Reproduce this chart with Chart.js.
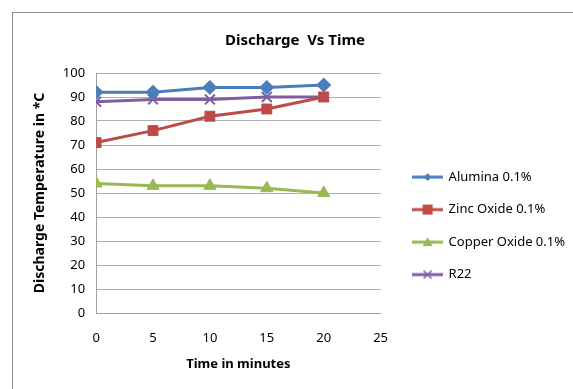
<!DOCTYPE html>
<html>
<head>
<meta charset="utf-8">
<script src="https://cdn.jsdelivr.net/npm/chart.js@4"></script>
<style>
  html, body { margin: 0; padding: 0; background: #fff; overflow: hidden; }
  #wrap { position: relative; width: 573px; height: 389px; }
  #frame { position: absolute; left: 12px; top: 12px; width: 620px; height: 420px;
           border: 1px solid #8c8c8c; pointer-events: none; }
</style>
</head>
<body>
<div id="wrap">
  <canvas id="chart" width="573" height="389"></canvas>
  <div id="frame"></div>
</div>
<script>
const times = [0, 5, 10, 15, 20];
const alumina = [92, 92, 94, 94, 95];
const zincOxide = [71, 76, 82, 85, 90];
const copperOxide = [54, 53, 53, 52, 50];
const r22 = [88, 89, 89, 90, 90];

const FONT = "'Noto Sans', sans-serif";

function legendIcon(color, style) {
    const c = document.createElement('canvas');
    c.width = 31; c.height = 14;
    const g = c.getContext('2d');
    g.strokeStyle = color; g.lineWidth = 3;
    g.beginPath(); g.moveTo(0, 7); g.lineTo(31, 7); g.stroke();
    g.fillStyle = color;
    g.lineWidth = 1.5;
    const m = 15.5;
    if (style === 'rectRot') {
        g.beginPath(); g.moveTo(m, 3); g.lineTo(m + 4, 7); g.lineTo(m, 11); g.lineTo(m - 4, 7); g.closePath(); g.fill();
    } else if (style === 'rect') {
        g.fillRect(m - 5, 2, 10, 10);
    } else if (style === 'triangle') {
        g.beginPath(); g.moveTo(m, 2); g.lineTo(m + 5, 11); g.lineTo(m - 5, 11); g.closePath(); g.fill();
    } else {
        g.beginPath(); g.moveTo(m - 4, 3); g.lineTo(m + 4, 11); g.moveTo(m + 4, 3); g.lineTo(m - 4, 11); g.stroke();
    }
    return c;
}

function series(label, values, color, style, radius) {
    return {
        label: label,
        data: times.map((t, i) => ({ x: t, y: values[i] })),
        borderColor: color,
        backgroundColor: color,
        pointBackgroundColor: color,
        pointBorderColor: color,
        pointStyle: style,
        pointRadius: radius,
        pointBorderWidth: style === 'crossRot' ? 2 : 1,
        borderWidth: 3,
        showLine: true,
        tension: 0,
        icon: legendIcon(color, style)
    };
}

// nudge the legend a bit further away from the plot
const legendShift = {
    id: 'legendShift',
    afterLayout(chart) {
        chart.legend.left += 13;
        chart.legend.right += 13;
    }
};

new Chart(document.getElementById('chart').getContext('2d'), {
    type: 'scatter',
    data: {
        datasets: [
            series('Alumina 0.1%', alumina, '#4a7ebb', 'rectRot', 7),
            series('Zinc Oxide 0.1%', zincOxide, '#be4b48', 'rect', 7),
            series('Copper Oxide 0.1%', copperOxide, '#98b954', 'triangle', 7),
            series('R22', r22, '#7d5fa0', 'crossRot', 7)
        ]
    },
    plugins: [legendShift],
    options: {
        responsive: false,
        animation: false,
        layout: { padding: { left: 28, right: 11, top: 8, bottom: 14.5 } },
        plugins: {
            title: {
                display: true,
                text: 'Discharge  Vs Time',
                color: '#000',
                font: { family: FONT, size: 15, weight: 'bold' },
                padding: { top: 24, bottom: 23 }
            },
            legend: {
                position: 'right',
                maxWidth: 220,
                title: {
                    display: true,
                    text: ' ',
                    font: { size: 1 },
                    padding: { top: 68, bottom: 0 }
                },
                labels: {
                    color: '#000',
                    font: { family: FONT, size: 13 },
                    usePointStyle: true,
                    pointStyleWidth: 29,
                    boxWidth: 29,
                    padding: 19.5,
                    generateLabels(chart) {
                        return chart.data.datasets.map((ds, i) => ({
                            text: ds.label,
                            pointStyle: ds.icon,
                            fillStyle: ds.borderColor,
                            strokeStyle: ds.borderColor,
                            lineWidth: 0,
                            fontColor: '#000',
                            datasetIndex: i
                        }));
                    }
                }
            },
            tooltip: { enabled: false }
        },
        scales: {
            x: {
                type: 'linear',
                min: 0,
                max: 25,
                ticks: { stepSize: 5, color: '#000', font: { family: FONT, size: 13, lineHeight: 1 }, padding: 18.5 },
                grid: { display: false, drawTicks: false },
                border: { color: '#a0a0a0', width: 1 },
                title: {
                    display: true,
                    text: 'Time in minutes',
                    color: '#000',
                    font: { family: FONT, size: 13, weight: 'bold', lineHeight: 1 },
                    padding: { top: -5.5 }
                }
            },
            y: {
                min: 0,
                max: 100,
                ticks: { stepSize: 10, color: '#000', font: { family: FONT, size: 13 }, padding: 11 },
                grid: { color: '#b0b0b0', drawTicks: false },
                border: { color: '#a0a0a0', width: 1 },
                title: {
                    display: true,
                    text: 'Discharge Temperature in *C',
                    color: '#000',
                    font: { family: FONT, size: 14, weight: 'bold' },
                    padding: { bottom: 3 }
                }
            }
        }
    }
});
</script>
</body>
</html>
